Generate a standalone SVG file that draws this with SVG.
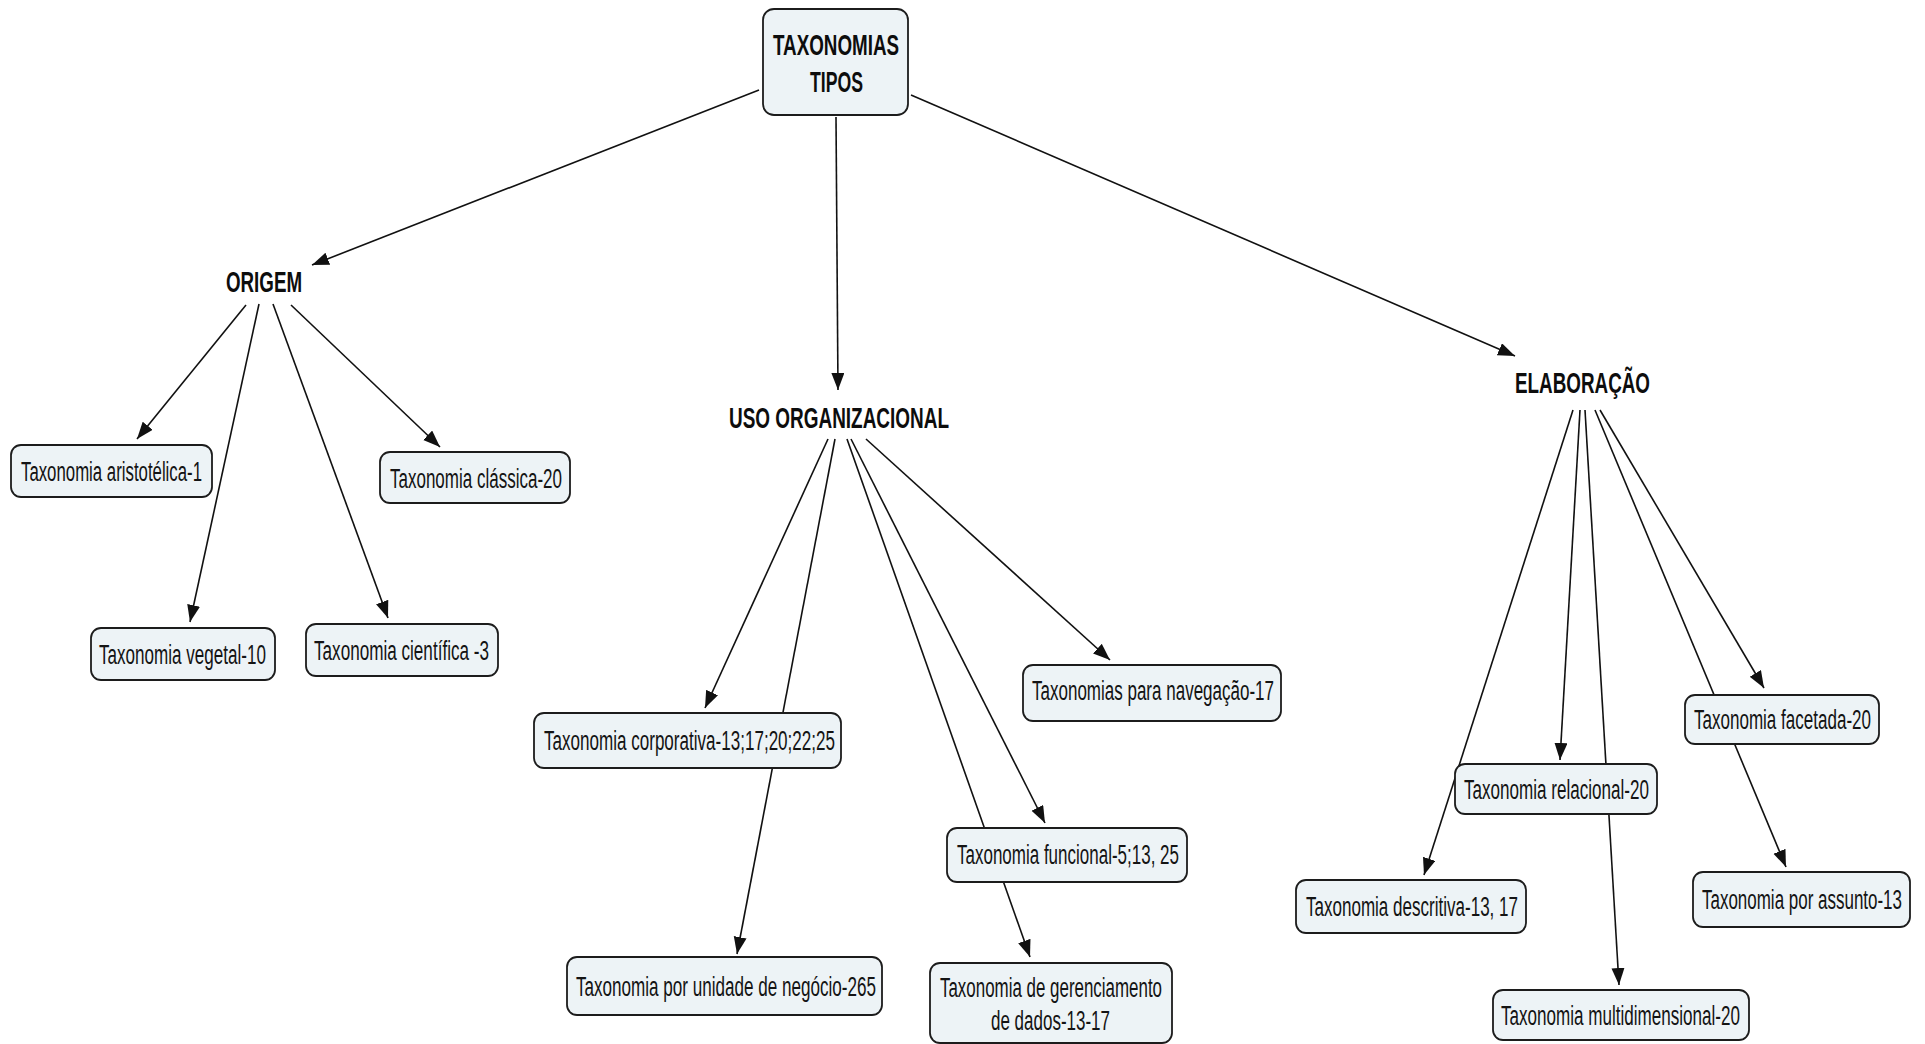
<svg xmlns="http://www.w3.org/2000/svg" width="1925" height="1044" viewBox="0 0 1925 1044">
  <style>
    .box { fill: #edf3f6; stroke: #1c1c1c; stroke-width: 1.8; }
    .lbl { font-family: "Liberation Sans", Arial, sans-serif; font-size: 27px; fill: #141414; }
    .head { font-family: "Liberation Sans", Arial, sans-serif; font-size: 29px; font-weight: bold; fill: #0d0d0d; }
    .root { font-family: "Liberation Sans", Arial, sans-serif; font-size: 30px; font-weight: bold; fill: #0d0d0d; }
    .edge { fill: none; stroke: #111; stroke-width: 1.6; marker-end: url(#arrow); }
  </style>
  <defs>
    <marker id="arrow" markerUnits="userSpaceOnUse" markerWidth="18" markerHeight="14" refX="17" refY="6.5" orient="auto">
      <path d="M0,0 L17,6.5 L0,13 Z" fill="#111"/>
    </marker>
  </defs>
  <rect width="1925" height="1044" fill="#ffffff"/>

  <!-- connectors -->
  <g id="connectors">
    <line class="edge" x1="759" y1="90" x2="312" y2="265"/>
    <line class="edge" x1="836" y1="117" x2="838" y2="390"/>
    <line class="edge" x1="911" y1="95" x2="1515" y2="356"/>

    <line class="edge" x1="246" y1="305" x2="137" y2="439"/>
    <line class="edge" x1="259" y1="304" x2="190" y2="622"/>
    <line class="edge" x1="273" y1="304" x2="388" y2="618"/>
    <line class="edge" x1="291" y1="305" x2="440" y2="447"/>

    <line class="edge" x1="828" y1="439" x2="705" y2="708"/>
    <line class="edge" x1="835" y1="439" x2="737" y2="954"/>
    <line class="edge" x1="847" y1="439" x2="1030" y2="957"/>
    <line class="edge" x1="851" y1="439" x2="1045" y2="823"/>
    <line class="edge" x1="866" y1="439" x2="1110" y2="660"/>

    <line class="edge" x1="1573" y1="410" x2="1424" y2="875"/>
    <line class="edge" x1="1580" y1="410" x2="1560" y2="760"/>
    <line class="edge" x1="1585" y1="410" x2="1619" y2="985"/>
    <line class="edge" x1="1595" y1="410" x2="1786" y2="867"/>
    <line class="edge" x1="1600" y1="410" x2="1764" y2="688"/>
  </g>

  <!-- root -->
  <g id="taxonomias-tipos">
    <rect class="box" x="763" y="9" width="145" height="106" rx="11"/>
    <text class="root" x="773" y="55" textLength="126" lengthAdjust="spacingAndGlyphs">TAXONOMIAS</text>
    <text class="root" x="810" y="92" textLength="53" lengthAdjust="spacingAndGlyphs">TIPOS</text>
  </g>

  <!-- branch headings -->
  <g id="origem">
    <text class="head" x="226" y="292" textLength="76" lengthAdjust="spacingAndGlyphs">ORIGEM</text>
  </g>
  <g id="uso-organizacional">
    <text class="head" x="729" y="428" textLength="220" lengthAdjust="spacingAndGlyphs">USO ORGANIZACIONAL</text>
  </g>
  <g id="elaboracao">
    <text class="head" x="1515" y="393" textLength="135" lengthAdjust="spacingAndGlyphs">ELABORAÇÃO</text>
  </g>

  <!-- ORIGEM leaves -->
  <g id="aristotelica">
    <rect class="box" x="11" y="445" width="201" height="52" rx="10"/>
    <text class="lbl" x="21" y="481" textLength="181" lengthAdjust="spacingAndGlyphs">Taxonomia aristotélica-1</text>
  </g>
  <g id="classica">
    <rect class="box" x="380" y="452" width="190" height="51" rx="10"/>
    <text class="lbl" x="390" y="488" textLength="172" lengthAdjust="spacingAndGlyphs">Taxonomia clássica-20</text>
  </g>
  <g id="vegetal">
    <rect class="box" x="91" y="628" width="184" height="52" rx="10"/>
    <text class="lbl" x="99" y="664" textLength="167" lengthAdjust="spacingAndGlyphs">Taxonomia vegetal-10</text>
  </g>
  <g id="cientifica">
    <rect class="box" x="306" y="624" width="192" height="52" rx="10"/>
    <text class="lbl" x="314" y="660" textLength="175" lengthAdjust="spacingAndGlyphs">Taxonomia científica -3</text>
  </g>

  <!-- USO ORGANIZACIONAL leaves -->
  <g id="corporativa">
    <rect class="box" x="534" y="713" width="307" height="55" rx="10"/>
    <text class="lbl" x="544" y="750" textLength="291" lengthAdjust="spacingAndGlyphs">Taxonomia corporativa-13;17;20;22;25</text>
  </g>
  <g id="unidade-negocio">
    <rect class="box" x="567" y="957" width="315" height="58" rx="10"/>
    <text class="lbl" x="576" y="996" textLength="300" lengthAdjust="spacingAndGlyphs">Taxonomia por unidade de negócio-265</text>
  </g>
  <g id="navegacao">
    <rect class="box" x="1023" y="665" width="258" height="56" rx="10"/>
    <text class="lbl" x="1032" y="700" textLength="242" lengthAdjust="spacingAndGlyphs">Taxonomias para navegação-17</text>
  </g>
  <g id="funcional">
    <rect class="box" x="947" y="828" width="240" height="54" rx="10"/>
    <text class="lbl" x="957" y="864" textLength="222" lengthAdjust="spacingAndGlyphs">Taxonomia funcional-5;13, 25</text>
  </g>
  <g id="gerenciamento">
    <rect class="box" x="930" y="963" width="242" height="80" rx="10"/>
    <text class="lbl" x="940" y="997" textLength="222" lengthAdjust="spacingAndGlyphs">Taxonomia de gerenciamento</text>
    <text class="lbl" x="991" y="1030" textLength="119" lengthAdjust="spacingAndGlyphs">de dados-13-17</text>
  </g>

  <!-- ELABORAÇÃO leaves -->
  <g id="facetada">
    <rect class="box" x="1685" y="695" width="194" height="49" rx="10"/>
    <text class="lbl" x="1694" y="729" textLength="177" lengthAdjust="spacingAndGlyphs">Taxonomia facetada-20</text>
  </g>
  <g id="relacional">
    <rect class="box" x="1455" y="764" width="202" height="50" rx="10"/>
    <text class="lbl" x="1464" y="799" textLength="185" lengthAdjust="spacingAndGlyphs">Taxonomia relacional-20</text>
  </g>
  <g id="descritiva">
    <rect class="box" x="1296" y="880" width="230" height="53" rx="10"/>
    <text class="lbl" x="1306" y="916" textLength="212" lengthAdjust="spacingAndGlyphs">Taxonomia descritiva-13, 17</text>
  </g>
  <g id="assunto">
    <rect class="box" x="1693" y="872" width="217" height="55" rx="10"/>
    <text class="lbl" x="1702" y="909" textLength="200" lengthAdjust="spacingAndGlyphs">Taxonomia por assunto-13</text>
  </g>
  <g id="multidimensional">
    <rect class="box" x="1493" y="990" width="256" height="50" rx="10"/>
    <text class="lbl" x="1501" y="1025" textLength="239" lengthAdjust="spacingAndGlyphs">Taxonomia multidimensional-20</text>
  </g>
</svg>
